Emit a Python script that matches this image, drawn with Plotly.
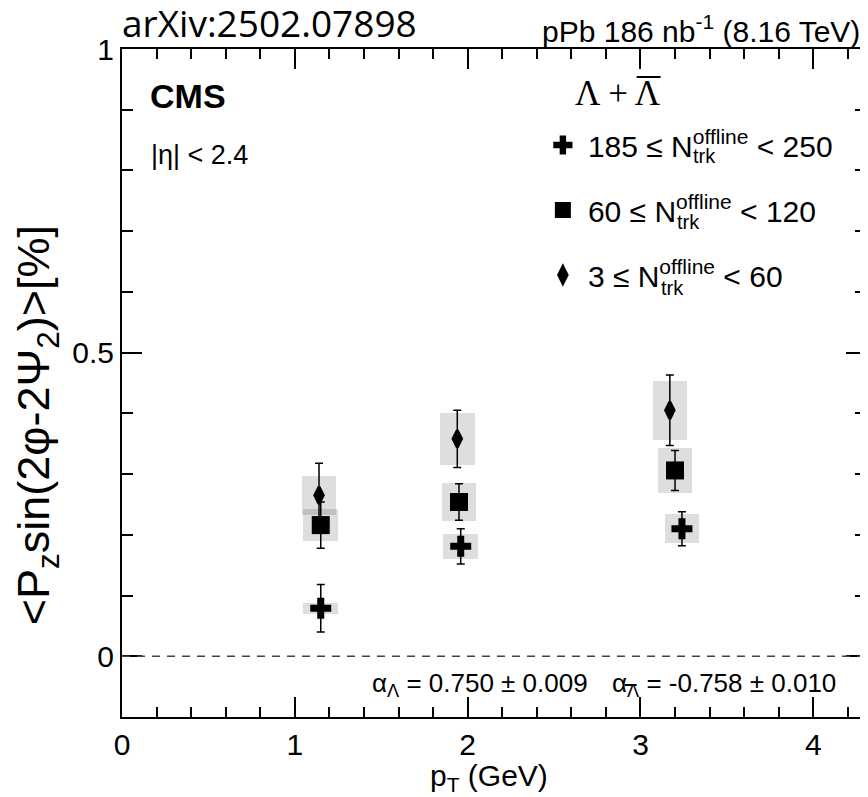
import plotly.graph_objects as go

# pT bins and values for the three multiplicity classes
pt_high = [1.15, 1.96, 3.24]
val_high = [0.079, 0.181, 0.210]
stat_high = [0.039, 0.029, 0.028]
sys_high = [0.009, 0.020, 0.024]

pt_mid = [1.15, 1.95, 3.20]
val_mid = [0.216, 0.254, 0.306]
stat_mid = [0.038, 0.030, 0.033]
sys_mid = [0.026, 0.031, 0.037]

pt_low = [1.14, 1.94, 3.17]
val_low = [0.265, 0.358, 0.405]
stat_low = [0.053, 0.047, 0.058]
sys_low = [0.032, 0.043, 0.049]

names = ["185 ≤ N<sup>offline</sup> < 250",
         "60 ≤ N<sup>offline</sup> < 120",
         "3 ≤ N<sup>offline</sup> < 60"]
symbols = ["cross", "square", "diamond-tall"]
sizes = [17.5, 18, 12]
lines = [0, 0, 3]

# the page body has an 8px margin, so the figure is shrunk by that much
OFF = 8
W, H = 868 - OFF, 797 - OFF
L, T, R, B = 122 - OFF, 49 - OFF, 0, 80
PW, PH = W - L - R, H - T - B


def xp(px):
    # window pixel -> paper fraction
    return (px - OFF - L) / PW


def yp(py):
    return (H - B - (py - OFF)) / PH


FONT = "Liberation Sans"
fig = go.Figure()

series = [(pt_high, val_high, stat_high, sys_high),
          (pt_mid, val_mid, stat_mid, sys_mid),
          (pt_low, val_low, stat_low, sys_low)]

# systematic boxes first so they sit below the points
for pt, val, stat, sys in series:
    fig.add_trace(go.Bar(x=pt, y=[2 * s for s in sys],
                         base=[v - s for v, s in zip(val, sys)],
                         width=0.2, marker_color="rgba(0,0,0,0.13)",
                         marker_line_width=0, showlegend=False,
                         hoverinfo="skip"))

for i, (pt, val, stat, sys) in enumerate(series):
    fig.add_trace(go.Scatter(x=pt, y=val, mode="markers", name=names[i],
                             legendgroup=str(i),
                             marker=dict(symbol=symbols[i], size=sizes[i], color="black",
                                         line=dict(color="black", width=lines[i])),
                             error_y=dict(type="data", array=stat, color="black",
                                          thickness=1.5, width=4)))

fig.add_hline(y=0, line=dict(color="#444", width=1.5, dash="8px,7px"))

axis_common = dict(showline=True, linecolor="black", linewidth=2, mirror="allticks",
                   ticks="inside", tickcolor="black", tickwidth=1.5, ticklen=20,
                   showgrid=False, zeroline=False,
                   tickfont=dict(family=FONT, size=30, color="black"))

fig.update_xaxes(range=[0, 4.305], tick0=0, dtick=1,
                 minor=dict(ticks="inside", ticklen=10, dtick=0.2, tickcolor="black",
                            tickwidth=1.5, showgrid=False),
                 **axis_common)
fig.update_yaxes(range=[-0.1, 1.0], tickvals=[0, 0.5, 1], ticktext=["0", "0.5", "1"],
                 minor=dict(ticks="inside", ticklen=11, dtick=0.1, tick0=0, tickcolor="black",
                            tickwidth=1.5, showgrid=False),
                 **axis_common)

ann = [
    dict(text="arXiv:2502.07898", x=xp(120), y=yp(23), xanchor="left", yanchor="middle",
         font=dict(family="Open Sans", size=37, color="black")),
    dict(text="pPb 186 nb<sup>-1</sup> (8.16 TeV)", x=xp(864), y=yp(29), xanchor="right",
         yanchor="middle", font=dict(family=FONT, size=30, color="black")),
    dict(text="<b>CMS</b>", x=xp(148), y=yp(96), xanchor="left", yanchor="middle",
         font=dict(family=FONT, size=34, color="black")),
    dict(text="|η| < 2.4", x=xp(149), y=yp(155), xanchor="left", yanchor="middle",
         font=dict(family=FONT, size=27, color="black")),
    dict(text="Λ + Λ", x=xp(574), y=yp(94), xanchor="left", yanchor="middle",
         font=dict(family="Liberation Serif", size=35, color="black")),
    dict(text="α<sub>Λ</sub> = 0.750 ± 0.009", x=xp(371), y=yp(684), xanchor="left",
         yanchor="middle", font=dict(family=FONT, size=26, color="black")),
    dict(text="α<sub>Λ</sub> = -0.758 ± 0.010", x=xp(611), y=yp(684), xanchor="left",
         yanchor="middle", font=dict(family=FONT, size=26, color="black")),
    dict(text="p<sub>T</sub> (GeV)", x=xp(429), y=yp(777), xanchor="left", yanchor="middle",
         font=dict(family=FONT, size=30, color="black")),
    dict(text="&lt;P<sub>z</sub>sin(2φ-2Ψ<sub>2</sub>)&gt;[%]", x=xp(36), y=yp(425),
         xanchor="center", yanchor="middle", textangle=-90,
         font=dict(family=FONT, size=45, color="black")),
]
# subscript "trk" stacked under the "offline" superscript
for tx, ty in [(693, 156), (676, 222), (660, 288)]:
    ann.append(dict(text="trk", x=xp(tx), y=yp(ty), xanchor="left", yanchor="middle",
                    font=dict(family=FONT, size=20, color="black")))
for a in ann:
    a.update(xref="paper", yref="paper", showarrow=False)

fig.update_layout(
    width=W, height=H, margin=dict(l=L, r=R, t=T, b=B),
    paper_bgcolor="white", plot_bgcolor="white",
    barmode="overlay", bargap=0,
    annotations=ann,
    showlegend=True,
    legend=dict(x=xp(539), y=yp(119), xanchor="left", yanchor="top",
                bgcolor="rgba(0,0,0,0)", tracegroupgap=23, itemwidth=40,
                font=dict(family=FONT, size=30, color="black")),
)

# overbars for the anti-Lambda symbols
for a, b, y in [(638, 662, 77), (626, 638, 685)]:
    fig.add_shape(type="line", xref="paper", yref="paper", x0=xp(a), x1=xp(b),
                  y0=yp(y), y1=yp(y), line=dict(color="black", width=2))

fig.write_html("out.html")
